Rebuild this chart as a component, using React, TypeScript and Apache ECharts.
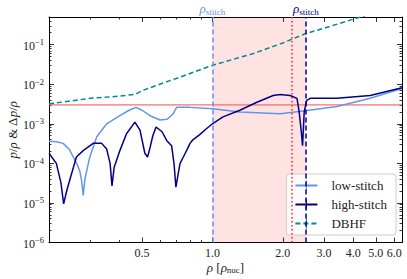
import React, { useEffect, useRef } from 'react';
import * as echarts from 'echarts';

// ---- data ----
const rhoLow = [0.2, 0.215, 0.23, 0.245, 0.254, 0.265, 0.271, 0.276, 0.28, 0.285, 0.292, 0.299, 0.32, 0.353, 0.402, 0.44, 0.471, 0.5, 0.541, 0.597, 0.64, 0.68, 0.703, 0.802, 1.0, 1.31, 1.95, 2.44, 3.41, 4.73, 6.47];
const lowStitch = [3.6e-4, 3.5e-4, 3.2e-4, 2.2e-4, 1.45e-4, 8.9e-5, 6.3e-5, 3.5e-5, 1.55e-5, 4e-5, 7.9e-5, 1.45e-4, 4.7e-4, 1.0e-3, 1.6e-3, 2.2e-3, 2.6e-3, 2.2e-3, 1.6e-3, 1.25e-3, 1.3e-3, 1.8e-3, 2.6e-3, 2.6e-3, 2.4e-3, 2.0e-3, 1.8e-3, 2.1e-3, 2.75e-3, 4.4e-3, 7.8e-3];

const rhoHigh = [0.2, 0.215, 0.225, 0.231, 0.238, 0.245, 0.262, 0.28, 0.309, 0.336, 0.353, 0.365, 0.372, 0.38, 0.402, 0.429, 0.466, 0.49, 0.514, 0.528, 0.541, 0.556, 0.574, 0.609, 0.637, 0.669, 0.685, 0.698, 0.712, 0.727, 0.751, 0.778, 0.802, 0.82, 0.885, 0.945, 1.0, 1.11, 1.31, 1.55, 1.82, 1.95, 2.15, 2.3, 2.35, 2.4, 2.43, 2.47, 2.53, 2.62, 3.41, 4.73, 6.47];
const highStitch = [1.8e-4, 1.0e-4, 3.2e-5, 9.5e-6, 2e-5, 3.7e-5, 1.45e-4, 2.1e-4, 3.2e-4, 3.2e-4, 2.3e-4, 1e-4, 2.7e-5, 8e-5, 2.1e-4, 5.6e-4, 1.1e-3, 6.9e-4, 1.8e-4, 1.45e-4, 2.5e-4, 5e-4, 8.3e-4, 6.3e-4, 3.8e-4, 2.8e-4, 1e-4, 2.5e-5, 5e-5, 1e-4, 1.45e-4, 2.2e-4, 3.2e-4, 3.8e-4, 5.4e-4, 7.6e-4, 1.0e-3, 1.5e-3, 2.2e-3, 3.5e-3, 5.2e-3, 5.5e-3, 5.2e-3, 4.4e-3, 2e-3, 6.3e-4, 2.8e-4, 2e-3, 3.9e-3, 4.4e-3, 4.4e-3, 5.2e-3, 8.1e-3];

const rhoDBHF = [0.2, 0.25, 0.3, 0.4, 0.47, 0.5, 0.7, 1.0, 1.5, 2.0, 2.5, 3.0, 4.0, 4.5];
const dbhf = [3.2e-3, 3.8e-3, 4.4e-3, 5.0e-3, 5.6e-3, 6.9e-3, 0.014, 0.030, 0.060, 0.11, 0.19, 0.26, 0.44, 0.54];

const xMajorTicks = [0.5, 1, 2, 3, 4, 5, 6];
const xMinorTicks = [0.3, 0.4, 0.6, 0.7, 0.8, 0.9];
const yMajorExp = [-6, -5, -4, -3, -2, -1];
const xRange = [0.2, 6.47];
const yRange = [1e-6, 0.5];
const rhoStitchLow = 1.0;
const rhoStitchHigh = 2.51;
const rhoRedDotted = 2.21;
const threshold = 3e-3;

const L = (v: number) => Math.log10(v);
const FONT = '"Liberation Serif", "DejaVu Serif", serif';

const yMinorTicks: number[] = [];
for (const e of yMajorExp) {
  for (let k = 2; k <= 9; k++) {
    const v = k * Math.pow(10, e);
    if (v <= yRange[1]) yMinorTicks.push(L(v));
  }
}

const pairs = (xs: number[], ys: number[]) => xs.map((x, i) => [L(x), L(ys[i])]);

const COL_LOW = '#6495ED';
const COL_HIGH = '#00008B';
const COL_DBHF = '#008B8B';
const COL_RED = '#ff4a4a';
const LEGEND_SYMBOL = 'path://M0,4.95 L10,4.95 L10,5.05 L0,5.05 Z M4.5,0 L5.5,0 L5.5,10 L4.5,10 Z';

function xAxisCfg(pos: 'top' | 'bottom', ticks: number[], len: number, showLine: boolean, labels: boolean) {
  return {
    type: 'value',
    position: pos,
    min: L(xRange[0]),
    max: L(xRange[1]),
    axisLine: { show: showLine, onZero: false, lineStyle: { color: '#000', width: 1 } },
    axisTick: { show: true, inside: true, length: len, customValues: ticks.map(L), lineStyle: { color: '#000', width: 0.8 } },
    axisLabel: labels
      ? {
          show: true,
          customValues: ticks.map(L),
          margin: 4,
          color: '#222',
          fontFamily: FONT,
          fontSize: 12,
          formatter: (v: number) => Math.pow(10, v).toFixed(1),
        }
      : { show: false },
    splitLine: { show: false },
  };
}

function yAxisCfg(pos: 'left' | 'right', ticks: number[], len: number, showLine: boolean, labels: boolean) {
  return {
    type: 'value',
    position: pos,
    min: L(yRange[0]),
    max: L(yRange[1]),
    axisLine: { show: showLine, onZero: false, lineStyle: { color: '#000', width: 1 } },
    axisTick: { show: true, inside: true, length: len, customValues: ticks, lineStyle: { color: '#000', width: 0.8 } },
    axisLabel: labels
      ? {
          show: true,
          customValues: ticks,
          margin: 5,
          formatter: (v: number) => `{b|10}{s|−${Math.round(-v)}}`,
          rich: {
            b: { fontFamily: FONT, fontSize: 12, color: '#222', lineHeight: 14, verticalAlign: 'bottom' },
            s: { fontFamily: FONT, fontSize: 8.5, color: '#222', lineHeight: 9, verticalAlign: 'top' },
          },
        }
      : { show: false },
    splitLine: { show: false },
  };
}

const stitchLabel = (color: string) => ({
  show: true,
  position: 'end',
  distance: 1,
  formatter: () => '{i|ρ}{s|stitch}',
  rich: {
    i: { fontFamily: FONT, fontStyle: 'italic', fontSize: 13, color, lineHeight: 14, verticalAlign: 'top' },
    s: { fontFamily: FONT, fontSize: 9, color, lineHeight: 12, verticalAlign: 'bottom', padding: [3, 0, 0, 0] },
  },
});

export default function App() {
  const ref = useRef<HTMLDivElement>(null);
  useEffect(() => {
    if (!ref.current) return;
    const chart = echarts.init(ref.current, undefined, { renderer: 'svg' });
    const option: any = {
      animation: false,
      backgroundColor: '#fff',
      grid: { left: 49, right: 5, top: 17, bottom: 36.5, containLabel: false, outerBoundsMode: 'none' },
      xAxis: [
        {
          ...xAxisCfg('bottom', xMajorTicks, 5, true, true),
          name: '{i|ρ} [{i|ρ}{s|nuc}]',
          nameLocation: 'middle',
          nameGap: 18,
          nameMoveOverlap: false,
          nameTextStyle: {
            fontFamily: FONT,
            fontSize: 13,
            color: '#222',
            rich: {
              i: { fontFamily: FONT, fontStyle: 'italic', fontSize: 13, color: '#222', lineHeight: 14, verticalAlign: 'top' },
              s: { fontFamily: FONT, fontSize: 9, color: '#222', lineHeight: 12, verticalAlign: 'bottom', padding: [3, 0, 0, 0] },
            },
          },
        },
        xAxisCfg('bottom', xMinorTicks, 2.5, false, false),
        xAxisCfg('top', xMajorTicks, 5, true, false),
        xAxisCfg('top', xMinorTicks, 2.5, false, false),
      ],
      yAxis: [
        {
          ...yAxisCfg('left', yMajorExp, 5, true, true),
          name: '{i|p}/{i|ρ} & Δ{i|p}/{i|ρ}',
          nameLocation: 'middle',
          nameGap: 30,
          nameRotate: 90,
          nameMoveOverlap: false,
          nameTextStyle: {
            fontFamily: FONT,
            fontSize: 13,
            color: '#222',
            rich: {
              i: { fontFamily: FONT, fontStyle: 'italic', fontSize: 13, color: '#222' },
            },
          },
        },
        yAxisCfg('left', yMinorTicks, 2.5, false, false),
        yAxisCfg('right', yMajorExp, 5, true, false),
        yAxisCfg('right', yMinorTicks, 2.5, false, false),
      ],
      legend: {
        orient: 'vertical',
        right: 11,
        bottom: 44,
        data: ['low-stitch', 'high-stitch', 'DBHF'],
        itemWidth: 22,
        itemHeight: 13,
        itemGap: 6,
        padding: [5, 9, 5, 8],
        backgroundColor: 'rgba(255,255,255,0.8)',
        borderColor: '#cccccc',
        borderWidth: 1,
        borderRadius: 3,
        itemStyle: { borderWidth: 0 },
        textStyle: { fontFamily: FONT, fontSize: 13, color: '#222', padding: [0, 0, 0, 9] },
      },
      series: [
        {
          name: 'guides',
          type: 'line',
          data: [],
          silent: true,
          markArea: {
            silent: true,
            itemStyle: { color: 'rgba(255,0,0,0.11)' },
            data: [[{ xAxis: L(rhoStitchLow) }, { xAxis: L(rhoStitchHigh) }]],
          },
          markLine: {
            silent: true,
            symbol: ['none', 'none'],
            animation: false,
            data: [
              { xAxis: L(rhoRedDotted), lineStyle: { color: '#ff2020', type: [1.5, 2.5], width: 1.5 }, label: { show: false } },
              { xAxis: L(rhoStitchLow), lineStyle: { color: COL_LOW, type: [5, 3], width: 1.5 }, label: stitchLabel(COL_LOW) },
              { xAxis: L(rhoStitchHigh), lineStyle: { color: COL_HIGH, type: [5, 3], width: 1.5 }, label: stitchLabel(COL_HIGH) },
            ],
          },
        },
        {
          name: 'threshold',
          type: 'line',
          data: [[L(xRange[0]), L(threshold)], [L(xRange[1]), L(threshold)]],
          symbol: 'none',
          silent: true,
          lineStyle: { color: COL_RED, width: 1 },
          itemStyle: { color: COL_RED },
          z: 2,
        },
        {
          name: 'low-stitch',
          type: 'line',
          data: pairs(rhoLow, lowStitch),
          symbol: LEGEND_SYMBOL,
          showSymbol: false,
          lineStyle: { color: COL_LOW, width: 1.5 },
          itemStyle: { color: COL_LOW, borderWidth: 0 },
          z: 3,
        },
        {
          name: 'high-stitch',
          type: 'line',
          data: pairs(rhoHigh, highStitch),
          symbol: LEGEND_SYMBOL,
          showSymbol: false,
          lineStyle: { color: COL_HIGH, width: 1.5 },
          itemStyle: { color: COL_HIGH, borderWidth: 0 },
          z: 4,
        },
        {
          name: 'DBHF',
          type: 'line',
          data: pairs(rhoDBHF, dbhf),
          symbol: LEGEND_SYMBOL,
          showSymbol: false,
          clip: true,
          lineStyle: { color: COL_DBHF, width: 1.5, type: [5, 3] },
          itemStyle: { color: COL_DBHF, borderWidth: 0 },
          z: 3,
        },
      ],
    };
    chart.setOption(option);
    return () => chart.dispose();
  }, []);
  return <div ref={ref} style={{ position: 'fixed', left: 0, top: 0, width: 407, height: 279 }} />;
}
